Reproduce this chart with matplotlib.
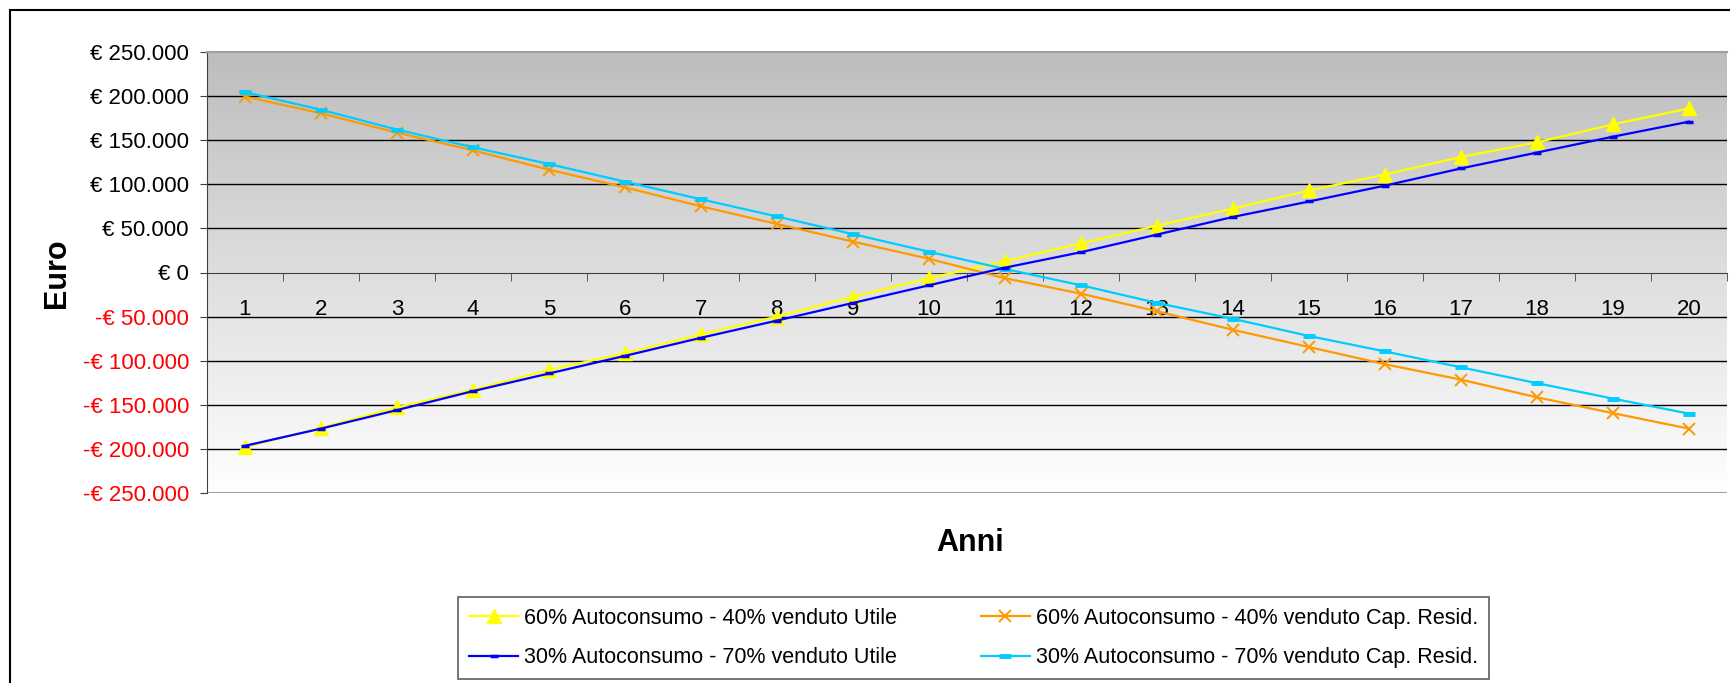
# Confronto utile / capitale residuo per due scenari di autoconsumo

import numpy as np
import matplotlib
matplotlib.use("Agg")
import matplotlib.pyplot as plt
from matplotlib.colors import LinearSegmentedColormap
from matplotlib.patches import Rectangle
from matplotlib.ticker import FuncFormatter, MultipleLocator

plt.rcParams['font.family'] = ['Liberation Sans', 'DejaVu Sans']

anni = list(range(1, 21))

# valori (euro)
utile_60 = [-198000, -176000, -153000, -133000, -110500, -91500, -70000, -50000, -27500, -6500,
            13000, 33000, 53000, 72500, 93000, 111000, 131000, 147500, 168000, 186000]
utile_30 = [-196500, -177000, -156000, -134500, -114500, -94500, -74000, -54500, -34500, -14500,
            5500, 23000, 43000, 63000, 80500, 98500, 118000, 136000, 154000, 171000]
cap_60 = [199500, 180500, 158500, 138500, 116500, 96500, 75000, 55000, 35000, 15500,
          -6500, -24000, -44000, -65000, -84500, -104000, -121500, -141500, -159500, -177000]
cap_30 = [204500, 184500, 162000, 142000, 123000, 103000, 83000, 63500, 43500, 23500,
          4000, -14500, -34500, -52500, -72000, -89500, -107500, -125500, -143000, -160000]

etichette = ["60% Autoconsumo - 40% venduto Utile",
             "30% Autoconsumo - 70% venduto Utile",
             "60% Autoconsumo - 40% venduto Cap. Resid.",
             "30% Autoconsumo - 70% venduto Cap. Resid."]

W, H = 1730, 683


def euro_formatter(v, pos):
    s = f"{abs(int(round(v))):,}".replace(",", ".")
    return f"-€ {s}" if v < 0 else f"€ {s}"


def main():
    fig = plt.figure(figsize=(W / 100, H / 100), dpi=100)
    ax = fig.add_axes([207 / W, 1 - 493 / H, 1520 / W, 441 / H])

    # sfondo sfumato
    cmap = LinearSegmentedColormap.from_list("bg", ["#bdbdbd", "#ffffff"])
    grad = np.linspace(0, 1, 256).reshape(-1, 1)
    ax.imshow(grad, extent=[0.5, 20.5, -250000, 250000], aspect='auto',
              cmap=cmap, zorder=0, interpolation='bicubic')

    for v in range(-200000, 250000, 50000):
        if v != 0:
            ax.axhline(v, color='black', lw=1, zorder=1)
    ax.axhline(-250000, color='#a0a0a0', lw=1.5, zorder=1)

    l1, = ax.plot(anni, utile_60, color='#ffff00', lw=1.6, marker='^', ms=10,
                  mec='#ffff00', zorder=3, clip_on=False)
    l3, = ax.plot(anni, cap_60, color='#ff9900', lw=1.6, marker='x', ms=9, mew=1.4,
                  zorder=3, clip_on=False)
    l4, = ax.plot(anni, cap_30, color='#00ccff', lw=1.6, marker='_', ms=9, mew=3.5,
                  zorder=3, clip_on=False)
    l2, = ax.plot(anni, utile_30, color='#0000ff', lw=1.6, marker='_', ms=6, mew=2.5,
                  zorder=4, clip_on=False)

    ax.set_xlim(0.5, 20.5)
    ax.set_ylim(-250000, 250000)

    # asse x sullo zero
    ax.spines['bottom'].set_position(('data', 0))
    ax.spines['bottom'].set_color('#404040')
    ax.spines['left'].set_color('#404040')
    ax.spines['top'].set_color('#a0a0a0')
    ax.spines['top'].set_linewidth(1.5)
    ax.spines['right'].set_visible(False)

    ax.set_xticks(anni)
    ax.set_xticks(np.arange(0.5, 21, 1), minor=True)
    ax.tick_params(axis='x', which='major', length=0, pad=19, labelsize=16)
    ax.tick_params(axis='x', which='minor', length=6, direction='out', color='#404040')

    ax.yaxis.set_major_locator(MultipleLocator(50000))
    ax.yaxis.set_major_formatter(FuncFormatter(euro_formatter))
    ax.tick_params(axis='y', length=5, direction='out', pad=8, labelsize=16, color='#404040')
    for lab, v in zip(ax.get_yticklabels(), ax.get_yticks()):
        if v < 0:
            lab.set_color('red')

    fig.text(57 / W, 1 - 273 / H, "Euro", rotation=90, fontsize=22, fontweight='bold',
             ha='center', va='center')
    fig.text(970 / W, 1 - 543 / H, "Anni", fontsize=22, fontweight='bold',
             ha='center', va='center')

    leg = fig.legend([l1, l2, l3, l4], etichette, ncol=2, loc='upper left',
                     bbox_to_anchor=(458 / W, 1 - 597 / H), borderaxespad=0,
                     fontsize=15.5, frameon=True, fancybox=False, edgecolor='#333333',
                     handlelength=2.3, handletextpad=0.25, columnspacing=3.9,
                     labelspacing=0.85, borderpad=0.5)
    leg.get_frame().set_linewidth(1.2)

    # cornice esterna
    fig.add_artist(Rectangle((10 / W, -0.1), 1.5, 1.1 - 10 / H, transform=fig.transFigure,
                             fill=False, ec='black', lw=1.5))

    fig.savefig("out.png", dpi=100)


if __name__ == "__main__":
    main()
